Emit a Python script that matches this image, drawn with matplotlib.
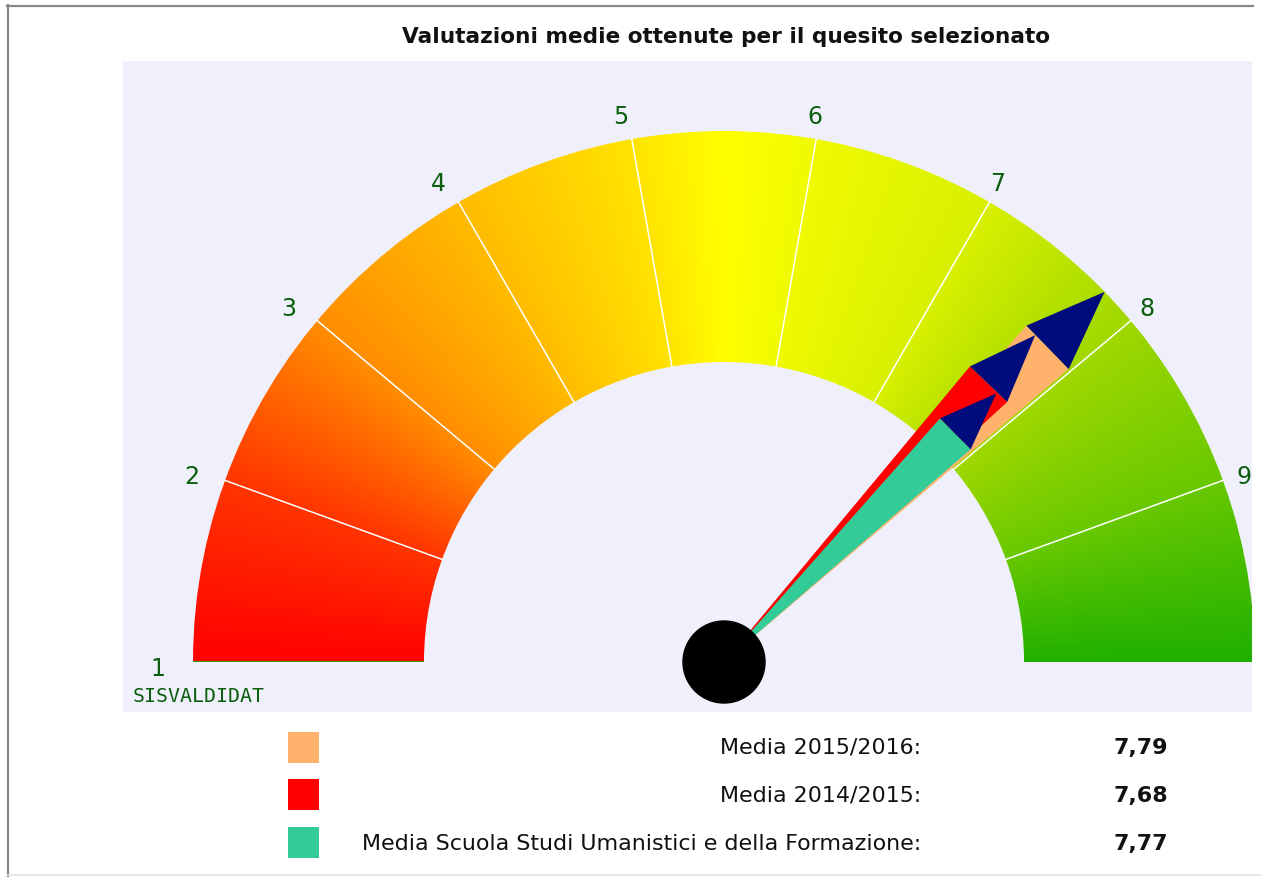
import numpy as np
import matplotlib.pyplot as plt
from matplotlib.patches import Wedge, Polygon, Circle, Rectangle

# data
series_labels = ['Media 2015/2016:', 'Media 2014/2015:',
                 'Media Scuola Studi Umanistici e della Formazione:']
series_values = [7.79, 7.68, 7.77]
value_text = ['7,79', '7,68', '7,77']
series_colors = ['#feb26c', '#ff0000', '#33cc99']
needle_len = [1.0, 0.85, 0.72]
scale_ticks = list(range(1, 11))
shown_labels = ['1', '2', '3', '4', '5', '6', '7', '8', '9']
vmin, vmax = 1, 10

# colour gradient along the scale
grad_pos = [1.0, 2.0, 3.0, 4.0, 5.0, 5.5, 6.0, 7.0, 8.0, 9.0, 10.0]
grad_col = ['#ff0000', '#ff3500', '#ff8e00', '#ffbc00', '#ffe400', '#ffff00',
            '#f0fa00', '#d8f000', '#a0d800', '#68c800', '#20b000']

R_OUT, R_IN = 1.0, 0.565
NAVY = '#000c7c'
LABEL_GREEN = '#0b5e0b'
PX = 1 / 531  # one pixel in data units


def angle_of(v):
    return np.pi * (1 - (v - vmin) / (vmax - vmin))


fig = plt.figure(figsize=(12.61, 8.78), dpi=100)

# background overlay in pixel coordinates (frame + legend)
bg = fig.add_axes([0, 0, 1, 1])
bg.set_xlim(0, 1261)
bg.set_ylim(878, 0)
bg.axis('off')
bg.plot([7, 1253], [6.5, 6.5], color='#888888', lw=1.6)
bg.plot([7.5, 7.5], [6, 878], color='#888888', lw=1.6)
bg.plot([8, 1261], [876.5, 876.5], color='#e4e4e4', lw=1.2)

fig.text(726 / 1261, 1 - 37 / 878, 'Valutazioni medie ottenute per il quesito selezionato',
         ha='center', va='center', fontsize=15.6, fontweight='bold', color='#111111')

for i, (lab, vt, c) in enumerate(zip(series_labels, value_text, series_colors)):
    yc = 748 + i * 48
    bg.add_patch(Rectangle((288, yc - 15.5), 31, 31, color=c, lw=0))
    bg.text(921, yc, lab, ha='right', va='center', fontsize=15.9, color='#111111')
    bg.text(1168, yc, vt, ha='right', va='center', fontsize=15.9, fontweight='bold', color='#111111')

# gauge
ax = fig.add_axes([123 / 1261, 1 - 713 / 878, 1129 / 1261, 651 / 878])
ax.set_xlim(-601 * PX, 528 * PX)
ax.set_ylim(-50 * PX, 601 * PX)
ax.set_aspect('equal')
ax.set_facecolor('#f0f0fc')
ax.set_xticks([])
ax.set_yticks([])
for s in ax.spines.values():
    s.set_visible(False)

# gradient image clipped to the annulus
xs = np.linspace(-1.01, 1.01, 900)
ys = np.linspace(-0.01, 1.01, 450)
X, Y = np.meshgrid(xs, ys)
theta = np.clip(np.arctan2(Y, X), 0, np.pi)
pos = vmin + (vmax - vmin) * (1 - theta / np.pi)
rgb_stops = np.array([[int(c[k:k + 2], 16) / 255 for k in (1, 3, 5)] for c in grad_col])
img = np.dstack([np.interp(pos, grad_pos, rgb_stops[:, k]) for k in range(3)])
im = ax.imshow(img, extent=[xs[0], xs[-1], ys[0], ys[-1]], origin='lower',
               interpolation='bilinear', zorder=1)
ring = Wedge((0, 0), R_OUT, 0, 180, width=R_OUT - R_IN, transform=ax.transData)
im.set_clip_path(ring)

# sector dividers
for t in scale_ticks[1:-1]:
    a = angle_of(t)
    ax.plot([R_IN * np.cos(a), R_OUT * np.cos(a)], [R_IN * np.sin(a), R_OUT * np.sin(a)],
            color='white', lw=1.1, zorder=2)

# scale labels (the 10 falls outside the drawing area)
for t, lab in zip(scale_ticks, shown_labels):
    a = angle_of(t)
    ax.text(1.055 * np.cos(a) - 6 * PX, 1.055 * np.sin(a) - 6 * PX, lab,
            ha='center', va='center', fontsize=17, color=LABEL_GREEN,
            clip_on=True, zorder=3)

ax.text(-591 * PX, -34 * PX, 'SISVALDIDAT', ha='left', va='center',
        family='DejaVu Sans Mono', fontsize=14.3, color=LABEL_GREEN, zorder=3)

# needles
for v, L, c in zip(series_values, needle_len, series_colors):
    a = angle_of(v)
    d = np.array([np.cos(a), np.sin(a)])
    p = np.array([-np.sin(a), np.cos(a)])
    tip = L * d
    base = 0.85 * L * d
    w = 0.057 * L
    A = base + w * p
    B = base - w * p
    ax.add_patch(Polygon([(0, 0), A, B], closed=True, color=c, lw=0, zorder=4))
    ax.add_patch(Polygon([A, tip, B], closed=True, color=NAVY, lw=0, zorder=4))

ax.add_patch(Circle((0, 0), 41 * PX, color='black', zorder=5))

fig.savefig('out.png', dpi=100, facecolor='white')
